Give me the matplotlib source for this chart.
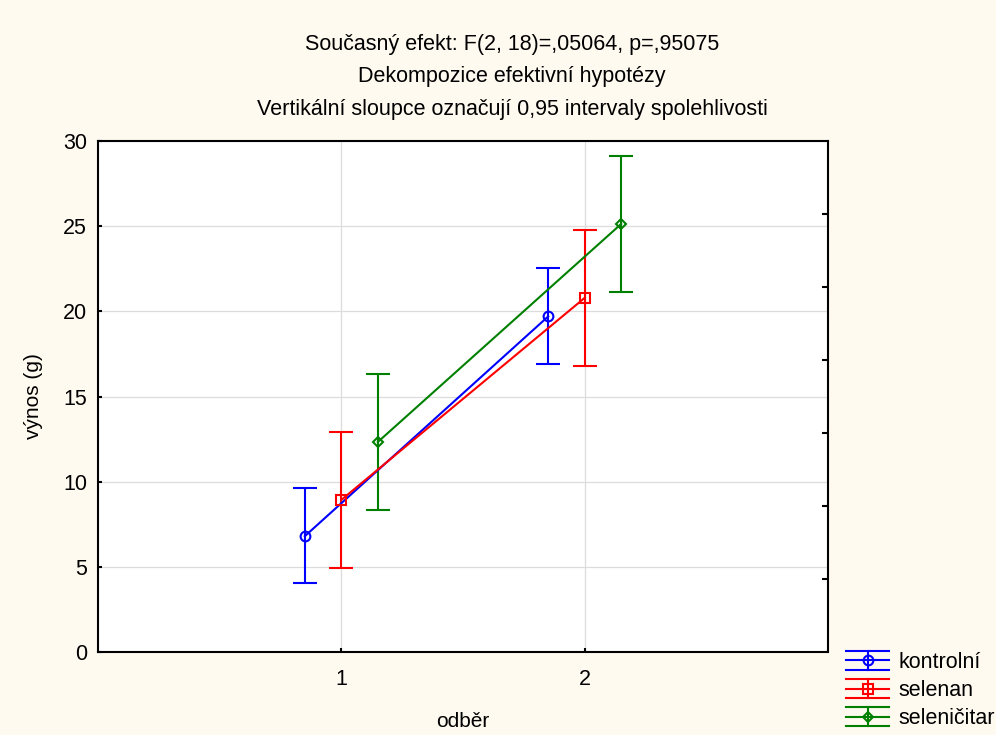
import matplotlib
matplotlib.use("Agg")
import matplotlib.pyplot as plt
from matplotlib.ticker import FixedLocator
from matplotlib.legend_handler import HandlerBase
from matplotlib.lines import Line2D

plt.rcParams['font.family'] = ['Liberation Sans', 'DejaVu Sans']

odber = [1, 2]
groups = ["kontrolní", "selenan", "seleničitar"]
means = {
    "kontrolní": [6.8, 19.7],
    "selenan": [8.93, 20.79],
    "seleničitar": [12.33, 25.13],
}
lower = {
    "kontrolní": [4.05, 16.91],
    "selenan": [4.93, 16.79],
    "seleničitar": [8.34, 21.14],
}
upper = {
    "kontrolní": [9.65, 22.53],
    "selenan": [12.93, 24.78],
    "seleničitar": [16.32, 29.12],
}
offsets = {"kontrolní": -0.15, "selenan": 0.0, "seleničitar": 0.15}
colors = {"kontrolní": "#0000ff", "selenan": "#ff0000", "seleničitar": "#008000"}
markers = {"kontrolní": "o", "selenan": "s", "seleničitar": "D"}
msizes = {"kontrolní": 7, "selenan": 7, "seleničitar": 5}

title_lines = [
    "Současný efekt: F(2, 18)=,05064, p=,95075",
    "Dekompozice efektivní hypotézy",
    "Vertikální sloupce označují 0,95 intervaly spolehlivosti",
]


class HandlerEB(HandlerBase):
    def create_artists(self, legend, orig_handle, xdescent, ydescent,
                       width, height, fontsize, trans):
        c, mk, ms = orig_handle
        x0, x1 = -xdescent, -xdescent + width
        ym = -ydescent + height / 2
        dy = height * 0.62
        xm = (x0 + x1) / 2
        arts = [
            Line2D([x0, x1], [ym, ym], color=c, lw=1.5),
            Line2D([x0, x1], [ym + dy, ym + dy], color=c, lw=1.5),
            Line2D([x0, x1], [ym - dy, ym - dy], color=c, lw=1.5),
            Line2D([xm, xm], [ym - dy, ym + dy], color=c, lw=1.5),
            Line2D([xm], [ym], marker=mk, ms=ms, mfc="none", mec=c, mew=1.5, color=c),
        ]
        for a in arts:
            a.set_transform(trans)
        return arts


fig = plt.figure(figsize=(9.96, 7.35), dpi=100, facecolor="#fffaf0")
ax = fig.add_axes([98/996, 1-652/735, (828-98)/996, (652-141)/735])
ax.set_facecolor("white")

handles = []
for g in groups:
    xs = [x + offsets[g] for x in odber]
    m = means[g]
    yerr = [[mm - lo for mm, lo in zip(m, lower[g])], [up - mm for mm, up in zip(m, upper[g])]]
    ax.errorbar(xs, m, yerr=yerr, color=colors[g], lw=1.5, elinewidth=1.5,
                capsize=8.5, capthick=1.5, marker=markers[g], ms=msizes[g],
                mfc="none", mec=colors[g], mew=1.5, zorder=3)
    handles.append((colors[g], markers[g], msizes[g]))

ax.set_xlim(0, 3)
ax.set_ylim(0, 30)
ax.set_xticks([1, 2])
ax.set_yticks([0, 5, 10, 15, 20, 25, 30])
ax.yaxis.set_minor_locator(FixedLocator([30*k/7 for k in range(1, 7)]))
ax.grid(True, which="major", color="#dcdcdc", lw=0.9, zorder=0)
ax.tick_params(axis="both", which="major", direction="in", length=3, width=1.5,
               labelsize=15.5, pad=8, right=False, top=False)
ax.tick_params(axis="y", which="minor", direction="in", length=4, width=1.5,
               left=False, right=True)
ax.tick_params(axis="x", which="major", pad=12)
for s in ax.spines.values():
    s.set_linewidth(1.5)

ax.set_xlabel("odběr", fontsize=15, labelpad=16)
ax.set_ylabel("výnos (g)", fontsize=15, labelpad=14)

ys = [42, 74, 107]
for t, y in zip(title_lines, ys):
    fig.text(512/996, 1-y/735 - 0.003, t, ha="center", va="center", fontsize=15.5)

fig.legend(handles=handles, labels=groups, loc="upper left",
           bbox_to_anchor=(846/996, 1-652/735), frameon=False, fontsize=15.5,
           labelspacing=0.33, handlelength=2.0, handletextpad=0.45, borderaxespad=0,
           borderpad=0, handler_map={tuple: HandlerEB()})

fig.savefig("out.png", dpi=100, facecolor=fig.get_facecolor())
